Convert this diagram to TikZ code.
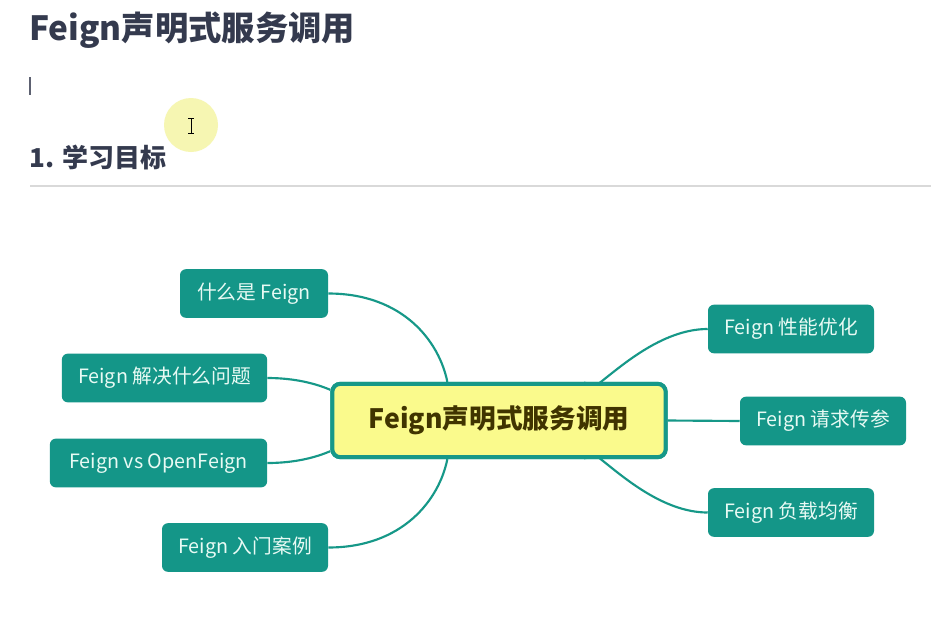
\documentclass[tikz,border=0pt]{standalone}
\usepackage{fontspec}
\setmainfont{Noto Sans CJK SC}
\usetikzlibrary{calc}
\definecolor{teal1}{RGB}{20,150,136}
\definecolor{tealline}{RGB}{22,152,136}
\definecolor{boxtext}{RGB}{232,250,244}
\definecolor{headcol}{RGB}{52,58,78}
\definecolor{centerfill}{RGB}{250,250,140}
\definecolor{centertext}{RGB}{64,52,0}
\definecolor{hilite}{RGB}{246,246,178}
\tikzset{
  leaf/.style={fill=teal1, rounded corners=4.5pt, text=boxtext, font=\fontsize{14.8}{17}\selectfont,
    minimum height=36.5pt, inner sep=0pt, anchor=center},
  hub/.style={fill=centerfill, draw=tealline, line width=3pt, rounded corners=6pt, text=centertext,
    font=\fontsize{20}{24}\selectfont\bfseries, minimum width=250pt, minimum height=55pt, inner sep=0pt},
  link/.style={draw=tealline, line width=1.6pt},
}
\begin{document}
\begin{tikzpicture}[x=0.75pt,y=-0.75pt]
\useasboundingbox (0,0) rectangle (931,618);
\fill[white] (0,0) rectangle (931,618);
% page heading
\node[anchor=west, text=headcol, font=\fontsize{25}{29}\selectfont\bfseries, inner sep=0pt] (title) at (29,30) {Feign声明式服务调用};
\draw[headcol!80, line width=0.8pt] (30,77) -- (30,95);
\fill[hilite] (191,125) circle (27);
\coordinate (cursor) at (191,126);
\draw[black, line width=0.7pt] ($(cursor)+(0,-7)$) -- ($(cursor)+(0,7)$)
  ($(cursor)+(-3,-7.5)$) -- ($(cursor)+(3,-7.5)$)
  ($(cursor)+(-3,7.5)$) -- ($(cursor)+(3,7.5)$);
\node[anchor=west, text=headcol, font=\fontsize{19.5}{22}\selectfont\bfseries, inner sep=0pt] (sub) at (29,157) {1. 学习目标};
\draw[black!15, line width=0.8pt] (30,186) -- (931,186);
% hub
\node[hub] (c) at (499,420.5) {Feign声明式服务调用};
% leaves
\node[leaf, minimum width=111pt] (a) at (254,293.5) {什么是 Feign};
\node[leaf, minimum width=154pt] (b) at (164.5,378) {Feign 解决什么问题};
\node[leaf, minimum width=163pt] (d) at (158.5,463) {Feign vs OpenFeign};
\node[leaf, minimum width=124.5pt] (e) at (245,547.5) {Feign 入门案例};
\node[leaf, minimum width=124.5pt] (f) at (791,329) {Feign 性能优化};
\node[leaf, minimum width=124.5pt] (g) at (823,421) {Feign 请求传参};
\node[leaf, minimum width=124.5pt] (h) at (791,512.5) {Feign 负载均衡};
% anchor points on hub
\coordinate (cta) at ($(c.north west)+(117,0)$);
\coordinate (ctf) at ($(c.north west)+(255,0)$);
\coordinate (cbe) at ($(c.south west)+(117,0)$);
\coordinate (cbh) at ($(c.south west)+(255,0)$);
\coordinate (clb) at ($(c.north west)+(0,8)$);
\coordinate (cld) at ($(c.south west)+(0,-8)$);
% connectors
\draw[link] (a.east) .. controls +(75,0) and +(-8,-40) .. (cta);
\draw[link] (b.east) .. controls +(28,0) and +(-14,-6) .. (clb);
\draw[link] (d.east) .. controls +(28,0) and +(-14,6) .. (cld);
\draw[link] (e.east) .. controls +(75,0) and +(-8,40) .. (cbe);
\draw[link] (f.west) .. controls +(-70,0) and +(-8,36) .. (ctf);
\draw[link] (c.east) -- (g.west);
\draw[link] (h.west) .. controls +(-70,0) and +(-8,-36) .. (cbh);
% redraw hub above lines
\node[hub] at (c) {Feign声明式服务调用};
\end{tikzpicture}
\end{document}
